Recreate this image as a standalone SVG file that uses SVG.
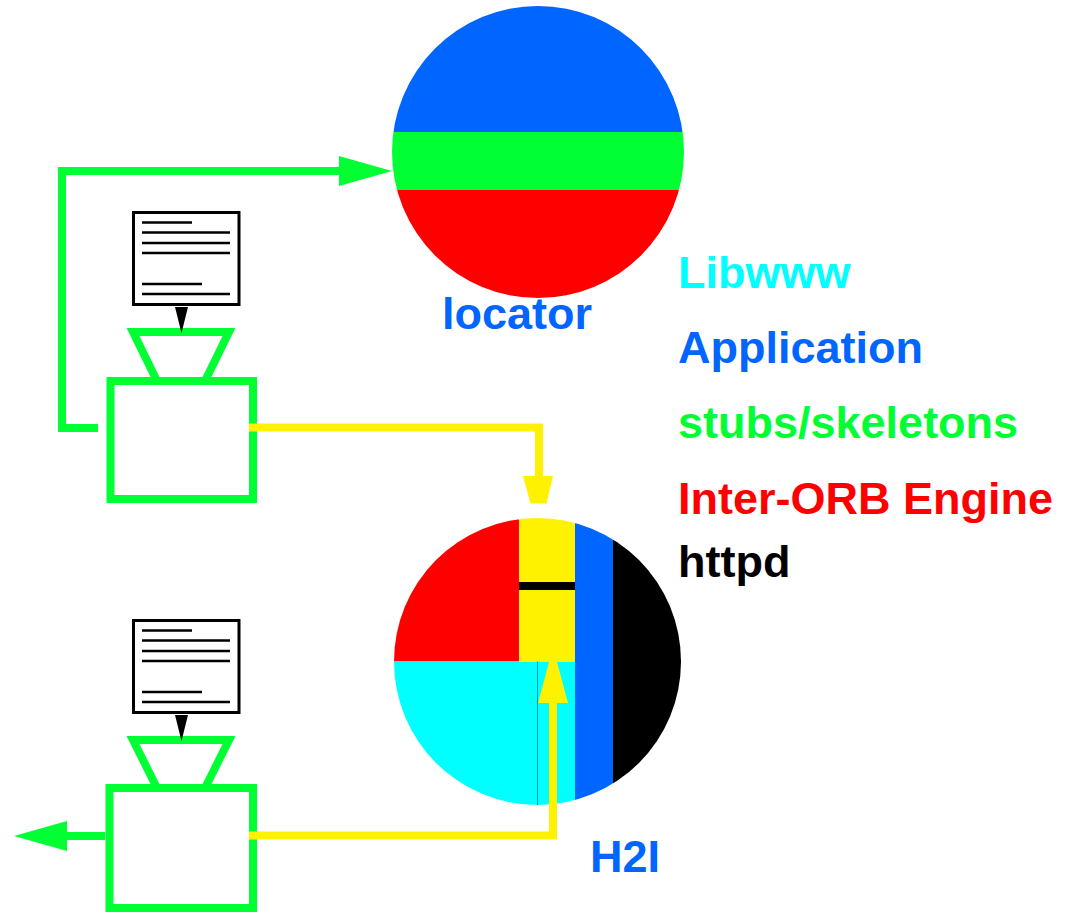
<svg xmlns="http://www.w3.org/2000/svg" xmlns:xlink="http://www.w3.org/1999/xlink" width="1082" height="912" viewBox="0 0 1082 912">
<style>
text{font-family:"Liberation Sans",Arial,sans-serif;font-weight:bold;font-size:45px}
.g{fill:none;stroke:#00ff33;stroke-width:8}
.y{fill:none;stroke:#fff200;stroke-width:8}
.doc{fill:#fff;stroke:#000;stroke-width:3}
.ln{stroke:#000;stroke-width:2.5;fill:none}
</style>
<defs>
<clipPath id="c1"><circle cx="538" cy="152" r="146"/></clipPath>
<clipPath id="c2"><circle cx="537.5" cy="661.5" r="143.5"/></clipPath>
<g id="doc">
<rect class="doc" x="133.5" y="212.5" width="105.5" height="92"/>
<path class="ln" d="M142 222.500H192M142 232.500H230M142 243H230M142 253H230M142 284H202M142 294H230"/>
<path d="M175 307H188L181.500 333Z"/>
</g>
</defs>
<rect width="1082" height="912" fill="#fff"/>
<g id="locator">
<g clip-path="url(#c1)">
<rect x="380" y="0" width="320" height="132" fill="#0066ff"/>
<rect x="380" y="132" width="320" height="58" fill="#00ff33"/>
<rect x="380" y="190" width="320" height="120" fill="#ff0000"/>
</g>
<text x="442" y="329" fill="#0066ff">locator</text>
</g>
<g id="h2i">
<g clip-path="url(#c2)">
<rect x="380" y="510" width="139" height="151.500" fill="#ff0000"/>
<rect x="380" y="661.500" width="195" height="150" fill="#00ffff"/>
<rect x="519" y="510" width="56" height="151.500" fill="#fff200"/>
<rect x="519" y="582" width="56" height="8" fill="#000"/>
<rect x="575" y="510" width="38" height="300" fill="#0066ff"/>
<rect x="613" y="510" width="80" height="300" fill="#000"/>
<path d="M537.500 661.500V805" stroke="#008c99" stroke-width="1" fill="none"/>
</g>
<text x="590" y="872" fill="#0066ff">H2I</text>
</g>
<g id="source-top">
<rect class="g" x="110.500" y="381" width="142.500" height="118"/>
<path class="g" d="M133 332H229L205 381H157Z"/>
<use xlink:href="#doc"/>
</g>
<g id="source-bottom">
<rect class="g" x="109.500" y="788" width="143.500" height="120"/>
<path class="g" d="M133 740H229L205 788H157Z"/>
<use xlink:href="#doc" y="408"/>
</g>
<g id="connectors">
<path class="g" d="M98 428H62V171H345"/>
<path d="M339 156L392 171L339 186Z" fill="#00ff33"/>
<path class="g" d="M105 836H65"/>
<path d="M67 821L14 836L67 851Z" fill="#00ff33"/>
<path class="y" d="M249 427.500H539V480"/>
<path d="M523 476H553L546.500 503.500H530.500Z" fill="#fff200"/>
<path class="y" d="M249 835.500H553V700"/>
<path d="M538 703H568L557 662H549Z" fill="#fff200"/>
</g>
<g id="legend">
<text x="678" y="288" fill="#00ffff">Libwww</text>
<text x="678" y="363" fill="#0066ff">Application</text>
<text x="678" y="438" fill="#00ff33">stubs/skeletons</text>
<text x="678" y="514" fill="#ff0000">Inter-ORB Engine</text>
<text x="678" y="577" fill="#000">httpd</text>
</g>
</svg>
